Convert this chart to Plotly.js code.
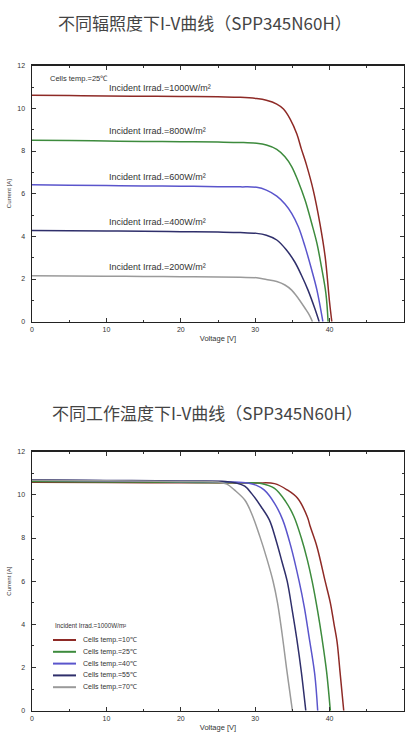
<!DOCTYPE html>
<html>
<head>
<meta charset="utf-8">
<script src="https://cdn.plot.ly/plotly-3.0.1.min.js"></script>
<style>html,body{margin:0;padding:0;background:#fff;}#chart{width:405px;height:734px;}</style>
</head>
<body>
<div id="chart"></div>
<script>
// ---- Chart 1: different irradiance (cells temp 25°C) ----
const irradLabels = ["Incident Irrad.=1000W/m²","Incident Irrad.=800W/m²","Incident Irrad.=600W/m²","Incident Irrad.=400W/m²","Incident Irrad.=200W/m²"];
const V1000 = [0,5,10,15,20,25,28,30.2,31.5,32.9,33.8,34.7,35.6,36.2,36.9,37.8,38.7,39.4,40.0,40.3];
const I1000 = [10.62,10.6,10.58,10.57,10.56,10.54,10.52,10.46,10.38,10.2,9.97,9.5,8.8,8.1,7.34,6.17,4.6,3.05,0.9,0];
const V800 = [0,5,10,15,20,25,28,30.2,31.5,32.9,34.0,34.9,35.8,36.7,37.6,38.3,38.9,39.5,39.8];
const I800 = [8.5,8.49,8.47,8.45,8.44,8.42,8.4,8.36,8.28,8.08,7.73,7.27,6.56,5.7,4.6,3.67,2.58,1.33,0];
const V600 = [0,5,10,15,20,25,28,30.2,31.5,32.9,34.0,34.9,35.8,36.7,37.6,38.3,39.1];
const I600 = [6.42,6.4,6.38,6.36,6.35,6.33,6.32,6.3,6.17,5.89,5.52,5.08,4.45,3.52,2.42,1.48,0];
const V400 = [0,5,10,15,20,25,28,30.2,31.5,32.9,34.2,35.3,36.2,37.1,38.0,38.6];
const I400 = [4.27,4.26,4.25,4.24,4.22,4.2,4.18,4.14,4.05,3.83,3.36,2.81,2.19,1.48,0.63,0];
const V200 = [0,5,10,15,20,25,28,30.2,31.5,32.9,34.0,34.9,35.8,36.7,37.3,37.7];
const I200 = [2.15,2.14,2.13,2.12,2.11,2.1,2.08,2.06,1.98,1.88,1.72,1.48,1.09,0.63,0.3,0];
const labelV1 = [10.05,10.05,10.05,10.05,10.05];
const labelI1 = [10.96,8.96,6.77,4.69,2.58];

// ---- Chart 2: different cell temperature (1000 W/m²) ----
const tempLabels = ["Cells temp.=10℃","Cells temp.=25℃","Cells temp.=40℃","Cells temp.=55℃","Cells temp.=70℃"];
const V10 = [0,10,20,30,32.6,34.3,35.7,37.0,37.4,38.3,39.4,40.1,40.6,41.0,41.4,41.9];
const I10 = [10.58,10.57,10.56,10.55,10.52,10.23,9.84,8.99,8.53,7.6,6.0,5.0,4.0,3.2,1.8,0];
const V25 = [0,10,20,28,30.8,32.6,34.1,35.2,36.2,37.0,37.65,38.4,39.0,39.6,40.1];
const I25 = [10.62,10.6,10.58,10.56,10.53,10.3,9.69,9.0,8.0,7.0,6.0,4.6,3.3,1.8,0];
const V40 = [0,10,20,27,29.0,30.1,31.2,32.6,33.7,34.8,35.9,36.6,37.2,38.0,38.4];
const I40 = [10.68,10.65,10.62,10.6,10.55,10.45,10.23,9.61,8.84,7.6,6.0,4.8,3.5,1.7,0];
const V55 = [0,10,20,26,27.4,28.6,29.5,30.8,31.9,32.8,33.6,34.3,35.0,35.6,36.2,36.8];
const I55 = [10.7,10.67,10.64,10.62,10.55,10.4,10.07,9.45,8.84,7.9,6.9,6.0,4.6,3.3,1.8,0];
const V70 = [0,10,20,25,26.2,27.2,28.6,29.5,30.6,31.6,32.4,33.0,33.6,34.2,34.6,35.0];
const I70 = [10.68,10.65,10.62,10.6,10.5,10.23,9.76,9.15,8.1,7.0,6.0,5.0,3.6,2.0,1.0,0];

const colors = ["#8e2a26","#3d8b3d","#5a55cc","#2f2f6b","#9a9a9a"];
const xTicks = [0,10,20,30,40,50];
const yTicks = [0,2,4,6,8,10,12];
const title1 = "不同辐照度下I-V曲线（SPP345N60H）";
const title2 = "不同工作温度下I-V曲线（SPP345N60H）";

const set1 = [[V1000,I1000],[V800,I800],[V600,I600],[V400,I400],[V200,I200]];
const set2 = [[V10,I10],[V25,I25],[V40,I40],[V55,I55],[V70,I70]];

const traces = [];
set1.forEach((s,i)=>traces.push({x:s[0],y:s[1],xaxis:'x',yaxis:'y',mode:'lines',
  line:{color:colors[i],width:1.5,shape:'spline',smoothing:1},showlegend:false,hoverinfo:'skip'}));
set2.forEach((s,i)=>traces.push({x:s[0],y:s[1],xaxis:'x2',yaxis:'y2',mode:'lines',
  line:{color:colors[i],width:1.5,shape:'spline',smoothing:1},showlegend:false,hoverinfo:'skip'}));

const tickFont = {family:"Liberation Sans, Arial, sans-serif",size:7,color:"#333"};
function xax(anchor){return {domain:[0,1],range:[0,50],anchor:anchor,tickvals:xTicks,ticktext:xTicks.map(String),
  ticks:'inside',ticklen:4,tickwidth:1,tickcolor:'#333',mirror:'ticks',showline:true,linecolor:'#222',linewidth:1.5,
  minor:{ticks:'inside',dtick:5,ticklen:2,tickcolor:'#333',showgrid:false},showgrid:false,zeroline:false,fixedrange:true,
  tickfont:tickFont,title:{text:'Voltage [V]',font:{family:"Liberation Sans, Arial, sans-serif",size:7.5,color:'#333'},standoff:4}};}
function yax(anchor,dom){return {domain:dom,range:[0,12],anchor:anchor,tickvals:yTicks,ticktext:yTicks.map(String),
  ticks:'inside',ticklen:4,tickwidth:1,tickcolor:'#333',mirror:'ticks',showline:true,linecolor:'#222',linewidth:1.5,
  ticklabelstandoff:4,
  minor:{ticks:'inside',dtick:1,ticklen:2,tickcolor:'#333',showgrid:false},showgrid:false,zeroline:false,fixedrange:true,
  tickfont:tickFont,title:{text:'Current [A]',font:{family:"Liberation Sans, Arial, sans-serif",size:6,color:'#333'},standoff:5}};}

const H = 734, L = 32, W = 372;
const px = v => (v - L) / W;
const py = v => (H - v) / H;

const annFont = {family:"Liberation Sans, Arial, sans-serif",size:9,color:"#333"};
const annotations = [
  {xref:'paper',yref:'paper',x:px(205),y:py(22),xanchor:'center',yanchor:'middle',showarrow:false,text:title1,
   font:{family:"Noto Sans CJK SC, sans-serif",size:17,color:"#444"}},
  {xref:'paper',yref:'paper',x:px(207),y:py(413),xanchor:'center',yanchor:'middle',showarrow:false,text:title2,
   font:{family:"Noto Sans CJK SC, sans-serif",size:17,color:"#444"}},
  {xref:'x',yref:'y',x:2.1,y:11.42,xanchor:'left',yanchor:'middle',showarrow:false,text:"Cells temp.=25℃",font:{...annFont,size:7.5}}
];
irradLabels.forEach((t,i)=>annotations.push({xref:'x',yref:'y',x:labelV1[i],y:labelI1[i],xanchor:'left',yanchor:'middle',
  showarrow:false,text:t,font:annFont}));

// compact legend for chart 2
const shapes = [];
annotations.push({xref:'paper',yref:'paper',x:px(53),y:py(625),xanchor:'left',yanchor:'middle',showarrow:false,
  text:"Incident Irrad.=1000W/m²",font:{...annFont,size:6.3}});
tempLabels.forEach((t,i)=>{
  const yy = py(640 + i*11.8);
  shapes.push({type:'line',xref:'paper',yref:'paper',x0:px(53),x1:px(76),y0:yy,y1:yy,line:{color:colors[i],width:2}});
  annotations.push({xref:'paper',yref:'paper',x:px(81),y:yy,xanchor:'left',yanchor:'middle',showarrow:false,text:t,
    font:{...annFont,size:7}});
});

const layout = {
  width:405,height:734,margin:{l:32,r:1,t:0,b:0},paper_bgcolor:'#fff',plot_bgcolor:'#fff',showlegend:false,
  xaxis:xax('y'),yaxis:yax('x',[py(321.7),py(65.7)]),
  xaxis2:xax('y2'),yaxis2:yax('x2',[py(710.7),py(451.7)]),
  annotations:annotations,shapes:shapes
};
Plotly.newPlot('chart',traces,layout,{displayModeBar:false,staticPlot:true});
</script>
</body>
</html>
